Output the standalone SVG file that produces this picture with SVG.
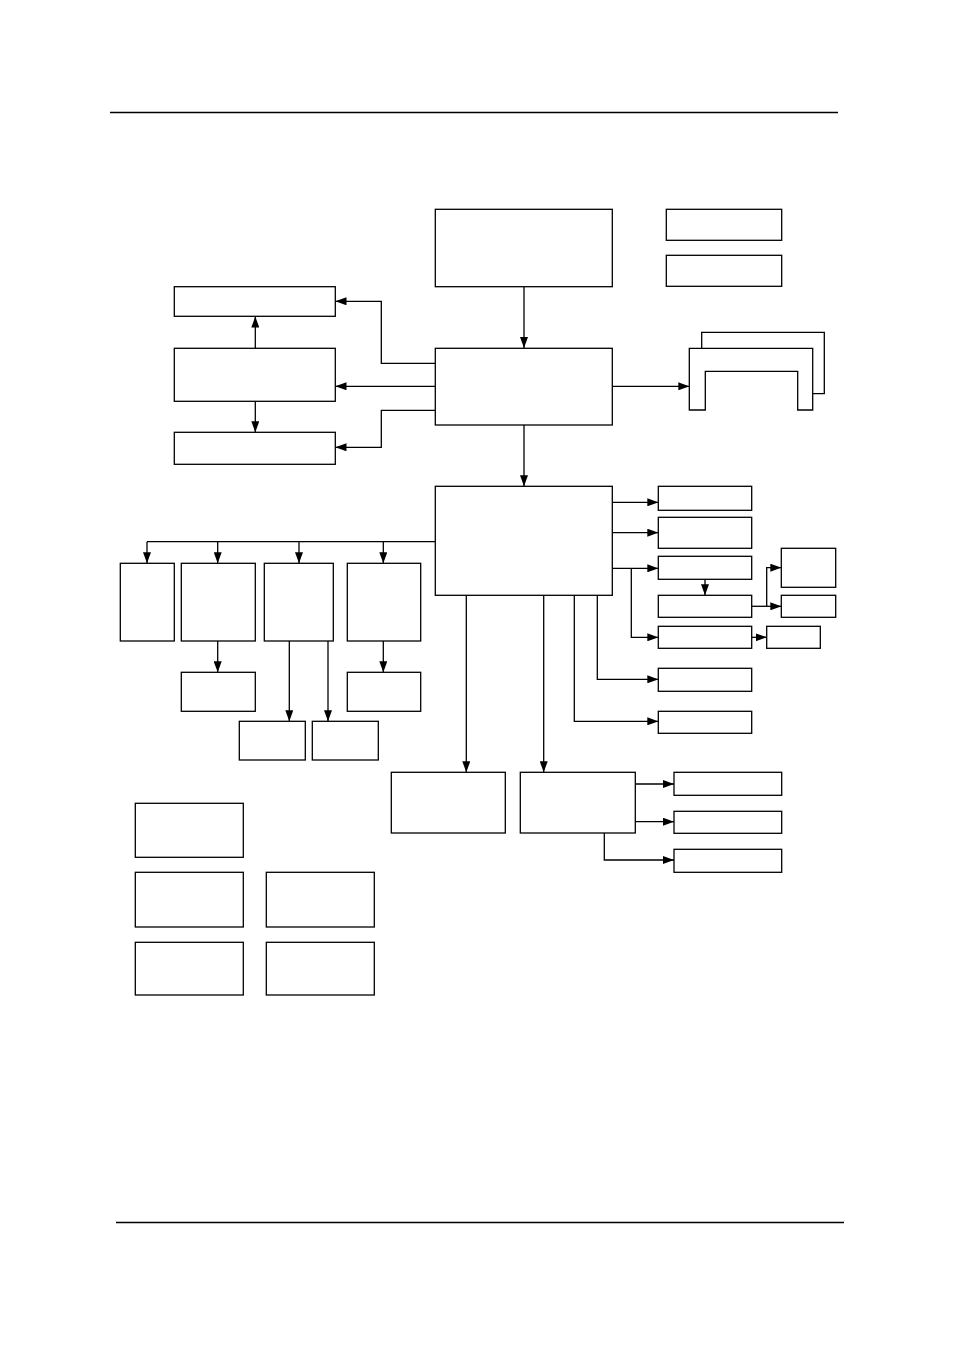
<svg xmlns="http://www.w3.org/2000/svg" width="954" height="1350" viewBox="0 0 954 1350">
<style>
.b{fill:#fff;stroke:#000;stroke-width:1.3}
.c{fill:none;stroke:#000;stroke-width:1.3}
.a{marker-end:url(#ah)}
.r{fill:none;stroke:#000;stroke-width:1.3}
</style>
<defs>
<marker id="ah" markerUnits="userSpaceOnUse" markerWidth="11" markerHeight="8" refX="11" refY="4" orient="auto" viewBox="0 0 11 8">
<path d="M0,0 L11,4 L0,8 z" fill="#000"/>
</marker>
</defs>
<rect width="954" height="1350" fill="#fff"/>
<line class="r" x1="110" y1="112.5" x2="838" y2="112.5"/>
<line class="r" x1="116" y1="1222.5" x2="844" y2="1222.5"/>
<g id="connectors">
<path class="c a" d="M524,287 V348"/>
<path class="c a" d="M435,363.3 H381.3 V301.3 H335.5"/>
<path class="c a" d="M435,386.3 H335.5"/>
<path class="c a" d="M435,410.3 H381.3 V447.3 H335.5"/>
<path class="c a" d="M255.3,348.3 V316.5"/>
<path class="c a" d="M255.3,401.5 V432.3"/>
<path class="c a" d="M612.3,386.3 H689.3"/>
<path class="c a" d="M524,425 V486.3"/>
<path class="c a" d="M612.3,502.3 H658.3"/>
<path class="c a" d="M612.3,532.7 H658.3"/>
<path class="c a" d="M612.3,568.3 H658.3"/>
<path class="c a" d="M631.3,568.3 V637.3 H658.3"/>
<path class="c a" d="M705,579.3 V595.3"/>
<path class="c a" d="M751.7,606.3 H781.3"/>
<path class="c a" d="M766.7,606.3 V567.7 H781.3"/>
<path class="c a" d="M751.7,637.3 H766.7"/>
<path class="c a" d="M597.3,595.3 V679.3 H658.3"/>
<path class="c a" d="M574.3,595.3 V721.3 H658.3"/>
<path class="c a" d="M466.3,595.3 V772.3"/>
<path class="c a" d="M543.7,595.3 V772.3"/>
<path class="c a" d="M635.3,784 H674"/>
<path class="c a" d="M635.3,821.7 H674"/>
<path class="c a" d="M604.3,833 V860 H674"/>
<path class="c" d="M435,541.7 H147"/>
<path class="c a" d="M147,541.7 V563.3"/>
<path class="c a" d="M217.7,541.7 V563.3"/>
<path class="c a" d="M299,541.7 V563.3"/>
<path class="c a" d="M383.3,541.7 V563.3"/>
<path class="c a" d="M217.7,641 V672.3"/>
<path class="c a" d="M383.3,641 V672.3"/>
<path class="c a" d="M289.3,641 V721.3"/>
<path class="c a" d="M328,641 V721.3"/>
</g>
<g id="top-box"><rect class="b" x="435.3" y="209.3" width="177" height="77.4"/></g>
<g id="small-1"><rect class="b" x="666.3" y="209.3" width="115.4" height="31"/></g>
<g id="small-2"><rect class="b" x="666.3" y="255.3" width="115.4" height="31"/></g>
<g id="hub-1"><rect class="b" x="435.3" y="348.3" width="177" height="76.7"/></g>
<g id="left-a"><rect class="b" x="174.3" y="286.7" width="161" height="29.6"/></g>
<g id="left-b"><rect class="b" x="174.3" y="348.3" width="161" height="53"/></g>
<g id="left-c"><rect class="b" x="174.3" y="432.3" width="161" height="32"/></g>
<g id="stack">
<path class="c" d="M701.7,348.3 V332.3 H824.3 V393.7 H812.7"/>
<path class="c" d="M689.3,348.3 H812.7 V410 H797.7 V371.3 H705.3 V410 H689.3 Z" fill="#fff"/>
</g>
<g id="hub-2"><rect class="b" x="435.3" y="486.3" width="177" height="109"/></g>
<g id="r1"><rect class="b" x="658.3" y="486.3" width="93.4" height="24"/></g>
<g id="r2"><rect class="b" x="658.3" y="517.3" width="93.4" height="31"/></g>
<g id="r3"><rect class="b" x="658.3" y="556.3" width="93.4" height="23"/></g>
<g id="r4"><rect class="b" x="658.3" y="595.3" width="93.4" height="22"/></g>
<g id="r5"><rect class="b" x="658.3" y="626.3" width="93.4" height="22"/></g>
<g id="r6"><rect class="b" x="658.3" y="668.3" width="93.4" height="23"/></g>
<g id="r7"><rect class="b" x="658.3" y="711.3" width="93.4" height="22"/></g>
<g id="fr1"><rect class="b" x="781.3" y="548.3" width="54.4" height="39"/></g>
<g id="fr2"><rect class="b" x="781.3" y="595.3" width="54.4" height="22"/></g>
<g id="fr3"><rect class="b" x="766.7" y="626.3" width="53.6" height="22"/></g>
<g id="l1"><rect class="b" x="120.3" y="563.3" width="54" height="77.7"/></g>
<g id="l2"><rect class="b" x="181.3" y="563.3" width="74" height="77.7"/></g>
<g id="l3"><rect class="b" x="264.3" y="563.3" width="69" height="77.7"/></g>
<g id="l4"><rect class="b" x="347.3" y="563.3" width="73.4" height="77.7"/></g>
<g id="l2b"><rect class="b" x="181.3" y="672.3" width="74" height="39"/></g>
<g id="l4b"><rect class="b" x="347.3" y="672.3" width="73.4" height="39"/></g>
<g id="l3a"><rect class="b" x="239.3" y="721.3" width="66" height="38.7"/></g>
<g id="l3b"><rect class="b" x="312.3" y="721.3" width="66" height="38.7"/></g>
<g id="bot-1"><rect class="b" x="391.3" y="772.3" width="114" height="60.7"/></g>
<g id="bot-2"><rect class="b" x="520.3" y="772.3" width="115" height="60.7"/></g>
<g id="s1"><rect class="b" x="674" y="772.3" width="107.7" height="23"/></g>
<g id="s2"><rect class="b" x="674" y="811.3" width="107.7" height="22"/></g>
<g id="s3"><rect class="b" x="674" y="849.3" width="107.7" height="23"/></g>
<g id="g1"><rect class="b" x="135.3" y="803.3" width="108" height="54"/></g>
<g id="g2"><rect class="b" x="135.3" y="872.3" width="108" height="54.7"/></g>
<g id="g3"><rect class="b" x="266.3" y="872.3" width="108" height="54.7"/></g>
<g id="g4"><rect class="b" x="135.3" y="942.3" width="108" height="52.7"/></g>
<g id="g5"><rect class="b" x="266.3" y="942.3" width="108" height="52.7"/></g>
</svg>
